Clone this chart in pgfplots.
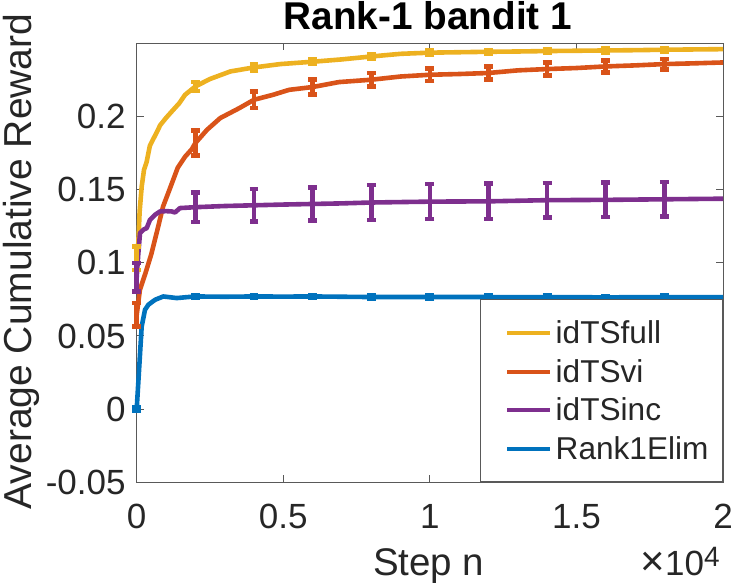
\documentclass[border=0pt]{standalone}
\usepackage{pgfplots}
\pgfplotsset{compat=1.18}
\usepackage{fontspec}
\setmainfont{Liberation Sans}

\definecolor{mblue}{rgb}{0,0.447,0.741}
\definecolor{morange}{rgb}{0.85,0.325,0.098}
\definecolor{myellow}{rgb}{0.929,0.694,0.125}
\definecolor{mpurple}{rgb}{0.494,0.184,0.556}
\definecolor{axgray}{rgb}{0.35,0.35,0.35}
\definecolor{txt}{rgb}{0.15,0.15,0.15}

\begin{document}
\begin{tikzpicture}
\begin{axis}[
    at={(0,0)}, anchor=south west,
    scale only axis, width=293.15bp, height=219.5bp,
    xmin=0, xmax=20000, ymin=-0.05, ymax=0.25,
    xtick={0,5000,10000,15000,20000}, xticklabels={0,0.5,1,1.5,2},
    ytick={-0.05,0,0.05,0.1,0.15,0.2}, yticklabels={-0.05,0,0.05,0.1,0.15,0.2},
    scaled x ticks=false,
    tick align=inside, xtick pos=both, ytick pos=both,
    major tick length=3.5bp,
    axis line style={draw=axgray, line width=0.5bp},
    every tick/.style={draw=axgray, line width=0.5bp},
    ticklabel style={font=\fontsize{17.5bp}{21bp}\selectfont, text=txt},
    xticklabel style={anchor=base, inner sep=0pt, yshift=-23bp},
    yticklabel style={anchor=east, inner sep=0pt, xshift=-5.35bp},
    clip=false,
    legend style={at={(1,0)}, anchor=south east, draw=axgray, line width=0.5bp,
        fill=white, inner sep=7bp, font=\fontsize{15.8bp}{19bp}\selectfont, text=txt,
        /tikz/column sep=1.8bp, /tikz/row sep=0pt,
        nodes={inner sep=0pt, text height=15bp, text depth=4.25bp}},
    legend cell align=left,
    legend image code/.code={\path (0bp,0bp); \draw[#1, line width=2bp] (5bp,0bp) -- (26.5bp,0bp);},
    every axis plot/.append style={line width=2.3bp, line join=round},
]
% idTSfull
\addplot[myellow, mark=none] coordinates {
(0,0.103) (30,0.108) (55,0.1135) (100,0.135) (170,0.152) (250,0.1636) (340,0.169)
(450,0.180) (550,0.184) (680,0.189) (800,0.194) (1000,0.199) (1250,0.2046) (1450,0.209)
(1650,0.2148) (2000,0.2205) (2500,0.2256) (3200,0.2308) (4000,0.2335) (4900,0.2358)
(6000,0.2374) (7000,0.239) (8000,0.241) (9000,0.2428) (10000,0.2436) (11000,0.2439)
(12000,0.2442) (13000,0.2444) (14000,0.2447) (15000,0.2449) (16000,0.2451) (17000,0.2453)
(18000,0.2456) (19000,0.2458) (20000,0.246)};
\addlegendentry{idTSfull}
% idTSvi
\addplot[morange, mark=none] coordinates {
(0,0.0645) (110,0.0816) (300,0.093) (500,0.106) (700,0.122) (900,0.1385) (1100,0.149)
(1400,0.1650) (1650,0.1725) (1875,0.1775) (2000,0.1818) (2400,0.1909) (2850,0.1989)
(3500,0.2057) (4000,0.2114) (4650,0.2148) (5200,0.2182) (6000,0.2201) (6900,0.2235)
(8000,0.2251) (9000,0.2273) (10000,0.2285) (11000,0.229) (12000,0.2297) (13000,0.2315)
(14000,0.2324) (15000,0.2331) (16000,0.2342) (17000,0.2349) (18000,0.2358) (19000,0.2363)
(20000,0.2369)};
\addlegendentry{idTSvi}
% idTSinc
\addplot[mpurple, mark=none] coordinates {
(0,0.0901) (50,0.105) (113,0.1203) (226,0.1226) (341,0.1237) (454,0.1294) (624,0.1328)
(794,0.1351) (1000,0.1353) (1193,0.1351) (1306,0.1344) (1476,0.1374) (2000,0.1380)
(3000,0.1388) (4000,0.1393) (5000,0.1398) (6000,0.1402) (7000,0.1406) (8000,0.1412)
(9000,0.1415) (10000,0.1418) (12000,0.1420) (14000,0.1428) (16000,0.1430) (18000,0.1434)
(20000,0.1438)};
\addlegendentry{idTSinc}
% Rank1Elim
\addplot[mblue, mark=none] coordinates {
(0,0) (170,0.0565) (283,0.0679) (397,0.0713) (624,0.0747) (907,0.077) (1077,0.0766)
(1364,0.0759) (1700,0.0765) (2000,0.077) (3000,0.0768) (4000,0.077) (5000,0.0769)
(6000,0.077) (7000,0.0768) (8000,0.0766) (10000,0.0766) (12000,0.0766) (14000,0.0765)
(16000,0.0764) (18000,0.0765) (20000,0.0765)};
\addlegendentry{Rank1Elim}

% error bars
\pgfplotsset{ebar/.style={draw=none, mark=none, forget plot,
    error bars/.cd, y dir=both, y explicit, error mark=-,
    error bar style={draw=#1, line width=2.3bp},
    error mark options={draw=#1, rotate=90, mark size=2.2bp, line width=2.3bp}}}
\addplot[ebar=myellow] coordinates {
(0,0.103) +- (0,0.008) (2000,0.2205) +- (0,0.003) (4000,0.2335) +- (0,0.002)
(6000,0.2374) +- (0,0.0015) (8000,0.241) +- (0,0.0015) (10000,0.2436) +- (0,0.0015)
(12000,0.2442) +- (0,0.0012) (14000,0.2447) +- (0,0.0012) (16000,0.2451) +- (0,0.0012)
(18000,0.2456) +- (0,0.0012)};
\addplot[ebar=morange] coordinates {
(0,0.0645) +- (0,0.008) (2000,0.1818) +- (0,0.0085) (4000,0.2114) +- (0,0.0055)
(6000,0.2201) +- (0,0.005) (8000,0.2251) +- (0,0.0046) (10000,0.2285) +- (0,0.0042)
(12000,0.2297) +- (0,0.0043) (14000,0.2324) +- (0,0.0043) (16000,0.2342) +- (0,0.004)
(18000,0.2358) +- (0,0.0036)};
\addplot[ebar=mpurple] coordinates {
(0,0.0901) +- (0,0.0097) (2000,0.138) +- (0,0.0102) (4000,0.1393) +- (0,0.011)
(6000,0.1402) +- (0,0.0114) (8000,0.1412) +- (0,0.012) (10000,0.1418) +- (0,0.012)
(12000,0.142) +- (0,0.012) (14000,0.1428) +- (0,0.0118) (16000,0.143) +- (0,0.0118)
(18000,0.1434) +- (0,0.0118)};
\addplot[ebar=mblue] coordinates {
(0,0) +- (0,0.001) (2000,0.077) +- (0,0.001) (4000,0.077) +- (0,0.001)
(6000,0.077) +- (0,0.001) (8000,0.0766) +- (0,0.001) (10000,0.0766) +- (0,0.001)
(12000,0.0766) +- (0,0.001) (14000,0.0765) +- (0,0.001) (16000,0.0764) +- (0,0.001)
(18000,0.0765) +- (0,0.001)};
\end{axis}

\node[anchor=base, inner sep=0pt, text=black, font=\bfseries\fontsize{19.35bp}{23bp}\selectfont]
    at (145.6bp,226.15bp) {Rank-1 bandit 1};
\node[anchor=base, inner sep=0pt, text=txt, font=\fontsize{19.25bp}{23bp}\selectfont]
    at (146bp,-46.35bp) {Step n};
\node[rotate=90, anchor=base, inner sep=0pt, text=txt, font=\fontsize{19.5bp}{23bp}\selectfont]
    at (-52.5bp,110.4bp) {Average Cumulative Reward};
\node[anchor=base east, inner sep=0pt, text=txt, font=\fontsize{17.5bp}{21bp}\selectfont]
    at (291.65bp,-46.35bp) {{\fontsize{21bp}{21bp}\selectfont ×}10\raisebox{4.2bp}{\fontsize{14bp}{16bp}\selectfont 4}};

\pgfresetboundingbox
\path[use as bounding box] (-68.35bp,-51.35bp) rectangle (297.15bp,241.15bp);
\end{tikzpicture}
\end{document}
